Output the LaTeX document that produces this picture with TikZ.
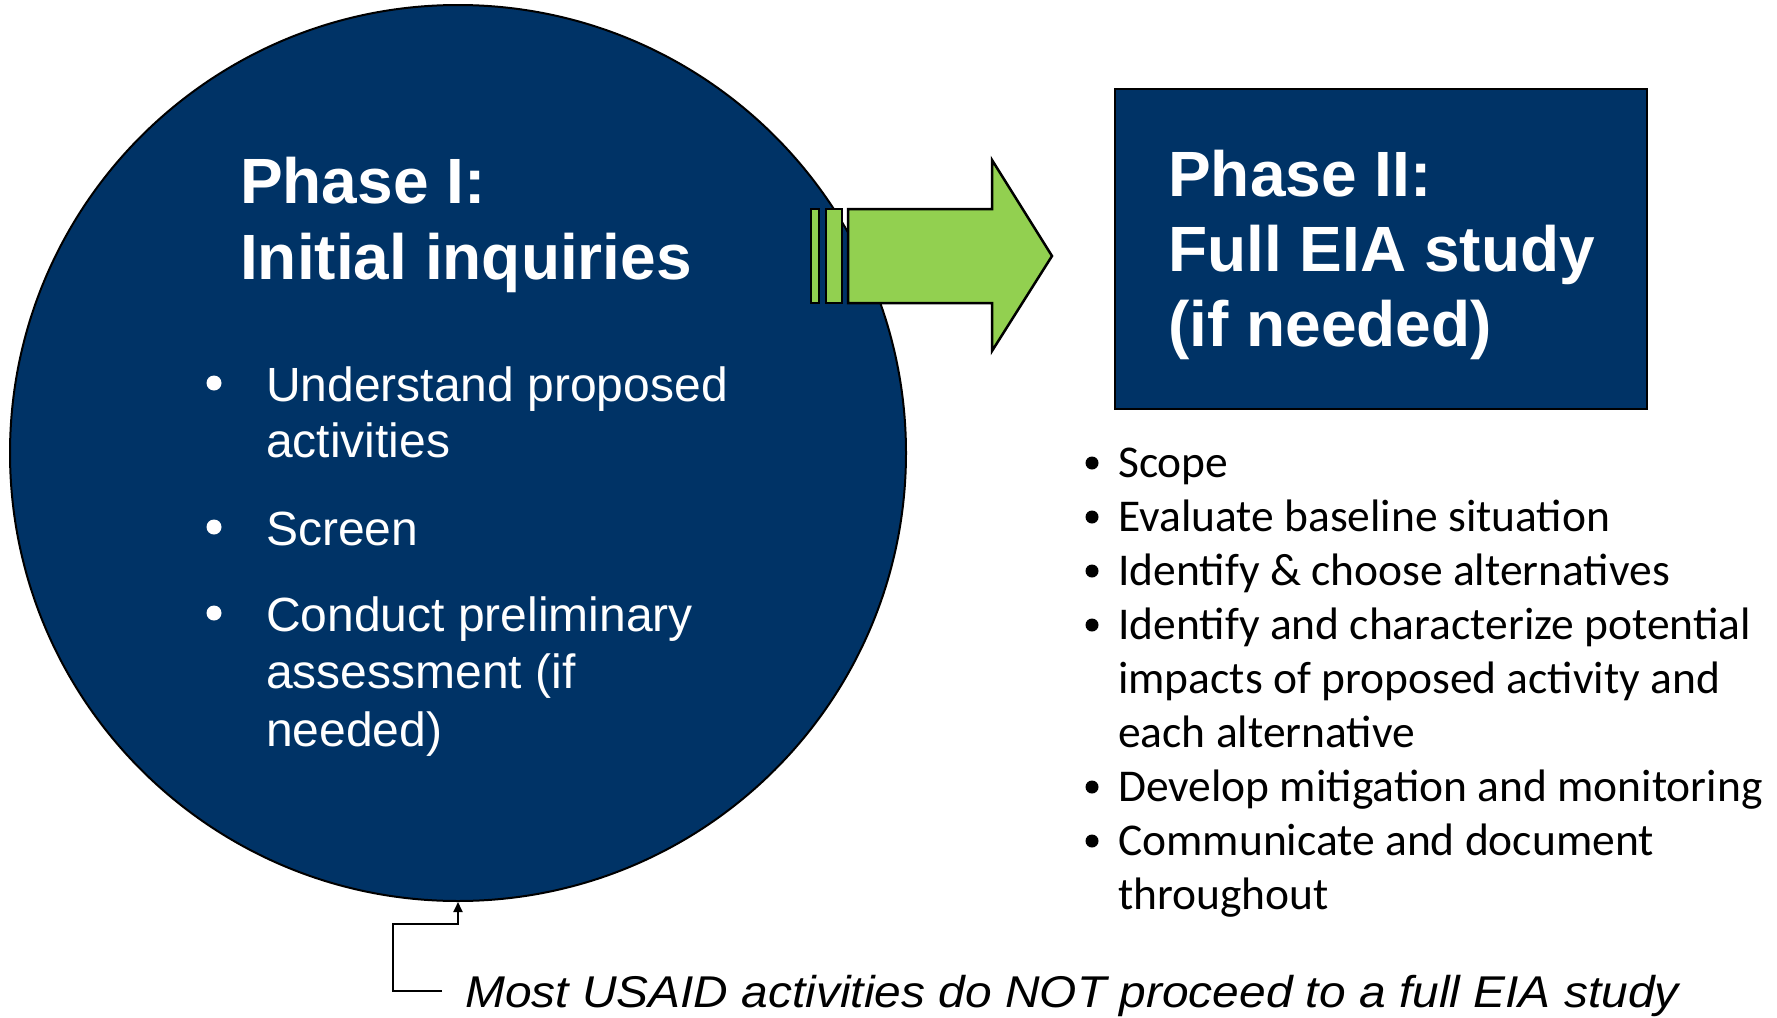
\documentclass[tikz,border=0pt]{standalone}
\usepackage{fontspec}
\setmainfont{Liberation Sans}
\newfontfamily\calibri{Carlito}
\newfontfamily\notefont[FakeStretch=1.076]{Liberation Sans}
\usetikzlibrary{arrows.meta}
\definecolor{phasenavy}{RGB}{0,51,102}
\definecolor{arrowgreen}{RGB}{146,208,80}

\begin{document}
\begin{tikzpicture}[x=1pt,y=-1pt,
		heading/.style={anchor=base west,inner sep=0,text=white,font=\fontsize{64}{74}\selectfont\bfseries},
		leftitem/.style={anchor=base west,inner sep=0,text=white,font=\fontsize{48}{56}\selectfont},
		rightitem/.style={anchor=base west,inner sep=0,font=\fontsize{45.5}{54}\selectfont\calibri},
		greenbar/.style={draw,line width=2.5,fill=arrowgreen,line join=miter}]
			\useasboundingbox (0,0) rectangle (1777,1017);
			% phase one circle
			\node[circle,draw,line width=2,fill=phasenavy,minimum size=896,inner sep=0] (phase1) at (458,453) {};
			\node[heading] (h1a) at (240,203) {Phase I:};
			\node[heading] (h1b) at (240,279) {Initial inquiries};
			\node[leftitem] (u1) at (266,401) {Understand proposed};
			\node[leftitem] (u2) at (266,457) {activities};
			\node[leftitem] (s1) at (266,545) {Screen};
			\node[leftitem] (c1) at (266,631) {Conduct preliminary};
			\node[leftitem] (c2) at (266,688) {assessment (if};
			\node[leftitem] (c3) at (266,746) {needed)};
			\foreach \y in {401,545,631}
				\fill[white] (214,\y-18) circle (7.5);
			% arrow
			\draw[greenbar] (811,209) rectangle (819,303);
			\draw[greenbar] (826,209) rectangle (842,303);
			\draw[greenbar] (848,209) -- (992,209) -- (992,160) -- (1052,256) -- (992,351) -- (992,303) -- (848,303) -- cycle;
			% phase two box
			\node[draw,line width=2,fill=phasenavy,anchor=north west,minimum width=532,minimum height=320,inner sep=0] (phase2) at (1114,88) {};
			\node[heading] (h2a) at (1168,196) {Phase II:};
			\node[heading] (h2b) at (1168,271) {Full EIA study};
			\node[heading] (h2c) at (1168,346) {(if needed)};
			\node[rightitem] (r1) at (1118,477) {Scope};
			\node[rightitem] (r2) at (1118,531) {Evaluate baseline situation};
			\node[rightitem] (r3) at (1118,585) {Identify \& choose alternatives};
			\node[rightitem] (r4) at (1118,639) {Identify and characterize potential};
			\node[rightitem] (r5) at (1118,693) {impacts of proposed activity and};
			\node[rightitem] (r6) at (1118,747) {each alternative};
			\node[rightitem] (r7) at (1118,801) {Develop mitigation and monitoring};
			\node[rightitem] (r8) at (1118,855) {Communicate and document};
			\node[rightitem] (r9) at (1118,909) {throughout};
			\foreach \y in {477,531,585,639,801,855}
				\fill (1092,\y-14) circle (6.5);
			% note
			\node[anchor=base west,inner sep=0,font=\fontsize{44.5}{50}\selectfont\notefont\itshape] (note) at (465,1007) {Most USAID activities do NOT proceed to a full EIA study};
			\coordinate (tail) at (442,991);
			\coordinate (bend) at (393,924);
			\draw[line width=2,-{Triangle[length=10,width=9]}] (tail) -| (bend) -- (bend -| phase1.south) -- (phase1.south);
		\end{tikzpicture}
\end{document}
